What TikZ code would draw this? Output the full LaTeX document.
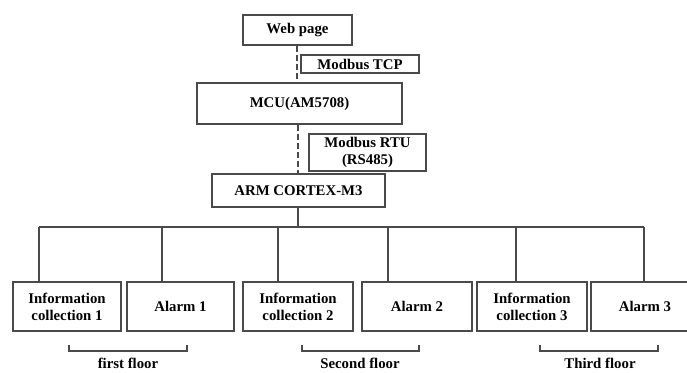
\documentclass[tikz,border=0pt]{standalone}
\usepackage{fontspec}
\setmainfont{Liberation Serif}
\begin{document}
\begin{tikzpicture}[x=1pt,y=-1pt,
  box/.style={draw=linegray, line width=1.3pt, inner sep=0pt, align=center,
    font=\fontsize{14.8}{17}\selectfont\bfseries, text=black},
  conn/.style={draw=linegray, line width=1.3pt},
  dconn/.style={draw=linegray, line width=1.6pt, dash pattern=on 6pt off 3pt},
  lbl/.style={inner sep=0pt, font=\fontsize{14.8}{17}\selectfont\bfseries, text=black}]
\definecolor{linegray}{HTML}{4A4A4A}
\useasboundingbox (0,0) rectangle (687,372);
\clip (0,0) rectangle (687,372);
\fill[white] (0,0) rectangle (687,372);
% top chain
\node[box, minimum width=109pt, minimum height=30pt] (web) at (297.5,30) {Web page};
\node[box, minimum width=118pt, minimum height=18pt] (tcp) at (360,64) {Modbus TCP};
\node[box, minimum width=205pt, minimum height=41pt] (mcu) at (299.5,103.5) {MCU(AM5708)};
\node[box, minimum width=117pt, minimum height=37pt] (rtu) at (367.5,152.5) {Modbus RTU\\(RS485)};
\node[box, minimum width=173pt, minimum height=33pt] (arm) at (298.5,190.5) {ARM CORTEX-M3};
\coordinate (w1) at (297,45);
\draw[dconn] (web.south -| w1) -- (mcu.north -| w1);
\coordinate (w2) at (298,124);
\draw[dconn] (mcu.south -| w2) -- (arm.north -| w2);
% bottom boxes
\node[box, minimum width=108pt, minimum height=49pt] (b1) at (67,306.5) {Information\\collection 1};
\node[box, minimum width=107pt, minimum height=49pt] (b2) at (180.5,306.5) {Alarm 1};
\node[box, minimum width=110pt, minimum height=49pt] (b3) at (298,306.5) {Information\\collection 2};
\node[box, minimum width=110pt, minimum height=49pt] (b4) at (417,306.5) {Alarm 2};
\node[box, minimum width=110pt, minimum height=49pt] (b5) at (532,306.5) {Information\\collection 3};
\node[box, minimum width=108pt, minimum height=49pt] (b6) at (645,306.5) {Alarm 3};
% bus
\coordinate (d1) at (39,227);
\coordinate (d2) at (162,227);
\coordinate (d3) at (278,227);
\coordinate (d4) at (388,227);
\coordinate (d5) at (516,227);
\coordinate (d6) at (644,227);
\coordinate (a0) at (298,227);
\draw[conn] (arm.south -| a0) -- (a0);
\draw[conn] (d1) -- (d6);
\draw[conn] (d1) -- (d1 |- b1.north);
\draw[conn] (d2) -- (d2 |- b2.north);
\draw[conn] (d3) -- (d3 |- b3.north);
\draw[conn] (d4) -- (d4 |- b4.north);
\draw[conn] (d5) -- (d5 |- b5.north);
\draw[conn] (d6) -- (d6 |- b6.north);
% floor brackets
\draw[conn] (69,345) -- (69,351) -- (187,351) -- (187,345);
\draw[conn] (302,345) -- (302,351) -- (419,351) -- (419,345);
\draw[conn] (540,345) -- (540,351) -- (658,351) -- (658,345);
\node[lbl] (f1) at (128,363.5) {first floor};
\node[lbl] (f2) at (360,363.5) {Second floor};
\node[lbl] (f3) at (600,363.5) {Third floor};
\end{tikzpicture}
\end{document}
